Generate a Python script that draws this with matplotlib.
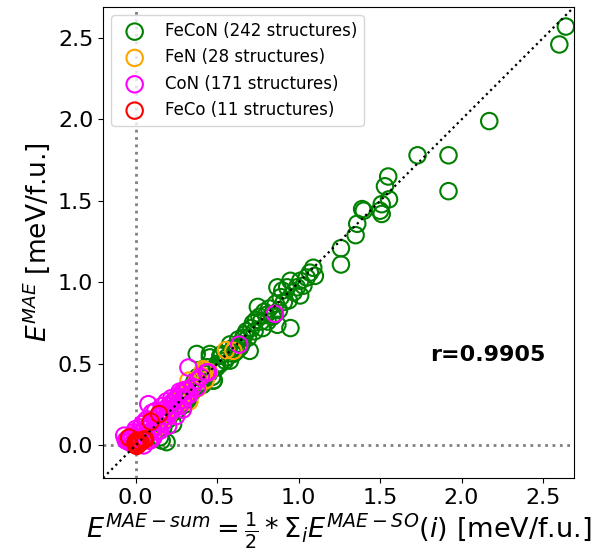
import matplotlib
matplotlib.use("Agg")
import matplotlib.pyplot as plt
import numpy as np

# ---- data ----
fecon_x = [0.15, 0.17, 0.19, 0.16, 0.23, 0.21, 0.26, 0.28, 0.30, 0.33, 0.35, 0.37, 0.40, 0.38, 0.42,
           0.45, 0.48, 0.47, 0.375, 0.456, 0.518, 0.477, 0.456, 0.497, 0.579, 0.599, 0.52, 0.55, 0.60,
           0.62, 0.64, 0.66, 0.68, 0.70, 0.72, 0.75, 0.76, 0.78, 0.74, 0.80, 0.82, 0.85, 0.86, 0.87,
           0.89, 0.90, 0.93, 0.94, 0.95, 0.87, 0.95, 1.01, 1.01, 1.05, 1.07, 1.09, 1.10, 1.26, 1.26,
           1.35, 1.36, 1.39, 1.40, 1.50, 1.51, 1.51, 1.53, 1.55, 1.555, 1.73, 1.92, 1.92, 2.17, 2.60, 2.64,
           0.50, 0.53, 0.56, 0.58, 0.61, 0.63, 0.65, 0.67, 0.69, 0.71, 0.73, 0.77, 0.79, 0.81, 0.84,
           0.88, 0.91, 0.97, 0.99, 1.03, 0.43, 0.41, 0.36, 0.32, 0.25, 0.20, 0.24, 0.31, 0.44]
fecon_y = [0.05, 0.11, 0.02, 0.03, 0.13, 0.19, 0.22, 0.27, 0.25, 0.30, 0.33, 0.36, 0.38, 0.42, 0.41,
           0.44, 0.40, 0.42, 0.561, 0.540, 0.499, 0.397, 0.561, 0.478, 0.520, 0.561, 0.55, 0.52, 0.60,
           0.58, 0.60, 0.66, 0.70, 0.58, 0.75, 0.85, 0.79, 0.72, 0.77, 0.80, 0.84, 0.80, 0.87, 0.97,
           0.91, 0.95, 0.97, 0.89, 0.72, 0.74, 1.01, 1.01, 0.92, 1.03, 1.06, 1.09, 1.04, 1.21, 1.11,
           1.29, 1.36, 1.45, 1.44, 1.44, 1.42, 1.48, 1.59, 1.65, 1.51, 1.78, 1.78, 1.56, 1.99, 2.46, 2.57,
           0.50, 0.56, 0.54, 0.62, 0.57, 0.65, 0.62, 0.68, 0.66, 0.72, 0.70, 0.76, 0.82, 0.76, 0.79,
           0.83, 0.88, 0.94, 0.97, 0.98, 0.46, 0.37, 0.39, 0.28, 0.21, 0.16, 0.27, 0.34, 0.48]

fen_x = [0.555, 0.426, 0.416, 0.375, 0.324, 0.314, 0.27, 0.45, 0.40, 0.35, 0.30, 0.25, 0.22, 0.20,
         0.18, 0.15, 0.12, 0.10, 0.05, 0.02, 0.33, 0.28, 0.43, 0.38, 0.60]
fen_y = [0.585, 0.458, 0.468, 0.397, 0.397, 0.319, 0.29, 0.45, 0.43, 0.36, 0.33, 0.24, 0.22, 0.18,
         0.20, 0.12, 0.10, 0.08, 0.05, 0.02, 0.27, 0.30, 0.40, 0.35, 0.58]

con_x = [-0.07, -0.05, -0.04, -0.03, -0.02, 0.0, 0.01, 0.02, 0.03, 0.04, 0.05, 0.06, 0.07, 0.08, 0.09,
         0.10, 0.11, 0.12, 0.13, 0.14, 0.15, 0.16, 0.17, 0.18, 0.19, 0.20, 0.21, 0.22, 0.23, 0.24,
         0.25, 0.26, 0.27, 0.28, 0.29, 0.30, 0.31, 0.314, 0.33, 0.35, 0.375, 0.38, 0.40, 0.436, 0.446,
         0.078, 0.324, 0.636, 0.855, 0.05, 0.08, 0.11, 0.14, 0.20, 0.25, 0.29, 0.03, 0.06, 0.10, -0.01,
         -0.06, -0.02, 0.0, 0.04, 0.07, 0.12, 0.16, 0.19, 0.22, 0.27, 0.15, 0.09]
con_y = [0.06, 0.04, 0.02, 0.05, 0.01, 0.03, 0.0, 0.05, 0.02, 0.08, 0.04, 0.10, 0.06, 0.12, 0.08,
         0.14, 0.10, 0.16, 0.12, 0.18, 0.15, 0.20, 0.14, 0.22, 0.18, 0.24, 0.20, 0.26, 0.22, 0.28,
         0.25, 0.30, 0.24, 0.32, 0.28, 0.34, 0.30, 0.335, 0.31, 0.36, 0.352, 0.40, 0.42, 0.448, 0.448,
         0.253, 0.478, 0.618, 0.807, 0.00, 0.03, 0.05, 0.09, 0.12, 0.18, 0.22, 0.11, 0.15, 0.20, 0.08,
         0.03, 0.06, 0.10, 0.13, 0.16, 0.21, 0.24, 0.27, 0.29, 0.33, 0.09, 0.03]

feco_x = [0.0, -0.04, 0.048, 0.093, 0.144, 0.007, 0.058, 0.02, 0.03, 0.0, 0.01]
feco_y = [0.007, 0.048, 0.032, 0.146, 0.192, -0.003, 0.038, 0.01, 0.02, 0.02, 0.03]

series = [
    ("FeCoN (242 structures)", fecon_x, fecon_y, "green"),
    ("FeN (28 structures)", fen_x, fen_y, "orange"),
    ("CoN (171 structures)", con_x, con_y, "magenta"),
    ("FeCo (11 structures)", feco_x, feco_y, "red"),
]
r_value = "r=0.9905"
lims = (-0.2, 2.69)

fig = plt.figure(figsize=(6.11, 5.6), dpi=100)
ax = fig.add_axes([103/611, 1 - 478/560, 471/611, 471/560])

ax.axvline(0, color="gray", linestyle=":", linewidth=2, zorder=1)
ax.axhline(0, color="gray", linestyle=":", linewidth=2, zorder=1)
ax.plot(lims, lims, color="black", linestyle=":", linewidth=1.6, zorder=5)

for i, (lab, xs, ys, c) in enumerate(series):
    ax.scatter(xs, ys, s=140, facecolors="none", edgecolors=c, linewidths=1.5,
               label=lab, zorder=2 + i * 0.5)

ax.set_xlim(lims)
ax.set_ylim(lims)
ax.set_xticks([0.0, 0.5, 1.0, 1.5, 2.0, 2.5])
ax.set_yticks([0.0, 0.5, 1.0, 1.5, 2.0, 2.5])
ax.tick_params(labelsize=16)
ax.set_xlabel(r"$E^{MAE-sum}=\frac{1}{2}*\Sigma_i E^{MAE-SO}(i)$ [meV/f.u.]", fontsize=19.5, labelpad=2)
ax.set_ylabel(r"$E^{MAE}$ [meV/f.u.]", fontsize=19, labelpad=4)
ax.text(0.694, 0.261, r_value, transform=ax.transAxes, fontsize=16, fontweight="bold", va="center")
ax.legend(loc="upper left", fontsize=12)

fig.savefig("out.png", dpi=100)
